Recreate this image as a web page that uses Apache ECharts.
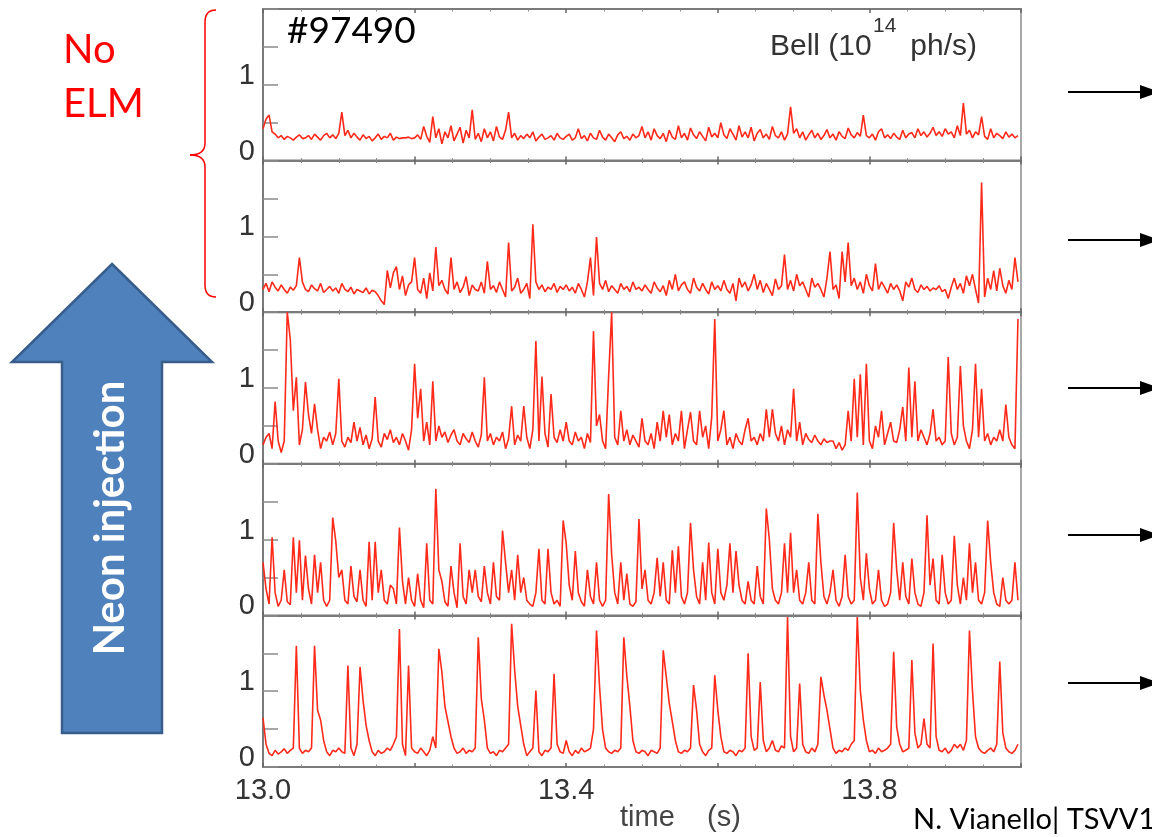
<!DOCTYPE html>
<html><head><meta charset="utf-8">
<script src="https://cdn.jsdelivr.net/npm/echarts@6/dist/echarts.min.js"></script>
<style>html,body{margin:0;padding:0;background:#fff}#c{width:1152px;height:837px}</style>
</head><body><div id="c"></div>
<script>
// Sampling: t = 13.000 + i * 0.004 s
const T0 = 13.0, DT = 0.004;

// Panel 1 (top, No ELM)
const panel1 = [
0.42,0.55,0.6,0.38,0.35,0.3,0.33,0.28,0.32,0.3,0.27,0.31,0.34,0.29,0.3,0.33,0.28,0.35,0.31,0.27,0.33,0.36,0.3,0.34,0.29,
0.36,0.64,0.33,0.4,0.3,0.36,0.31,0.27,0.34,0.29,0.32,0.26,0.3,0.35,0.28,0.32,0.3,0.36,0.27,0.31,0.29,0.3,0.3,0.31,0.29,
0.3,0.34,0.28,0.45,0.32,0.24,0.58,0.3,0.42,0.22,0.38,0.3,0.46,0.26,0.35,0.44,0.23,0.4,0.3,0.67,0.28,0.36,0.25,0.42,0.3,
0.38,0.26,0.45,0.31,0.28,0.4,0.64,0.3,0.36,0.27,0.33,0.29,0.35,0.3,0.38,0.26,0.31,0.35,0.28,0.3,0.33,0.27,0.36,0.3,0.28,
0.32,0.35,0.27,0.3,0.42,0.29,0.33,0.26,0.36,0.3,0.28,0.4,0.31,0.27,0.35,0.3,0.25,0.34,0.38,0.29,0.32,0.27,0.35,0.3,0.33,
0.45,0.3,0.38,0.27,0.42,0.33,0.29,0.36,0.25,0.4,0.31,0.28,0.46,0.3,0.36,0.27,0.43,0.34,0.29,0.38,0.32,0.26,0.44,0.31,0.36,
0.3,0.5,0.34,0.29,0.42,0.35,0.27,0.46,0.31,0.38,0.3,0.44,0.26,0.36,0.41,0.3,0.35,0.28,0.45,0.33,0.3,0.38,0.27,0.35,0.71,
0.36,0.42,0.3,0.38,0.27,0.34,0.4,0.3,0.36,0.28,0.33,0.41,0.3,0.35,0.27,0.38,0.32,0.29,0.43,0.34,0.3,0.37,0.32,0.6,0.33,
0.3,0.35,0.27,0.38,0.42,0.3,0.34,0.29,0.36,0.31,0.28,0.4,0.3,0.35,0.37,0.3,0.42,0.33,0.38,0.31,0.36,0.44,0.33,0.38,0.32,
0.42,0.35,0.38,0.3,0.46,0.33,0.76,0.35,0.4,0.3,0.38,0.34,0.58,0.32,0.28,0.42,0.3,0.36,0.33,0.29,0.38,0.31,0.35,0.3,0.33
];
// Panel 2
const panel2 = [
0.3,0.38,0.27,0.4,0.33,0.28,0.36,0.3,0.25,0.33,0.29,0.35,0.72,0.4,0.3,0.27,0.36,0.31,0.28,0.38,0.26,0.3,0.34,0.28,0.32,
0.25,0.38,0.3,0.27,0.33,0.24,0.3,0.28,0.26,0.32,0.24,0.29,0.27,0.22,0.15,0.1,0.55,0.32,0.52,0.6,0.3,0.48,0.22,0.36,0.4,
0.72,0.3,0.25,0.45,0.18,0.52,0.28,0.86,0.35,0.42,0.3,0.24,0.72,0.3,0.4,0.26,0.33,0.47,0.22,0.36,0.3,0.28,0.4,0.25,0.67,
0.3,0.35,0.26,0.4,0.3,0.2,0.92,0.28,0.33,0.45,0.25,0.3,0.38,0.18,1.16,0.4,0.3,0.36,0.27,0.33,0.3,0.38,0.26,0.34,0.3,
0.36,0.28,0.33,0.25,0.38,0.3,0.2,0.4,0.72,0.22,0.99,0.38,0.3,0.42,0.27,0.35,0.3,0.25,0.38,0.3,0.34,0.27,0.4,0.3,0.33,
0.28,0.36,0.3,0.25,0.4,0.32,0.27,0.35,0.22,0.42,0.3,0.5,0.28,0.36,0.4,0.3,0.25,0.45,0.33,0.28,0.38,0.3,0.24,0.4,0.3,
0.35,0.28,0.42,0.3,0.25,0.38,0.15,0.45,0.33,0.4,0.28,0.36,0.5,0.3,0.42,0.26,0.38,0.3,0.22,0.44,0.3,0.35,0.76,0.3,0.42,
0.28,0.5,0.35,0.4,0.3,0.2,0.45,0.33,0.38,0.3,0.2,0.45,0.8,0.3,0.36,0.18,0.8,0.4,0.92,0.35,0.45,0.3,0.4,0.25,0.5,
0.35,0.28,0.64,0.3,0.4,0.33,0.25,0.38,0.3,0.36,0.28,0.15,0.4,0.33,0.45,0.3,0.26,0.36,0.3,0.34,0.28,0.32,0.3,0.35,0.27,
0.3,0.18,0.33,0.45,0.3,0.38,0.25,0.48,0.35,0.5,0.3,0.12,1.71,0.2,0.45,0.3,0.55,0.28,0.58,0.35,0.25,0.42,0.3,0.72,0.4
];
// Panel 3
const panel3 = [
0.25,0.35,0.4,0.2,0.82,0.3,0.15,0.3,2.0,1.64,0.7,1.14,0.25,0.45,1.08,0.65,0.4,0.79,0.45,0.2,0.35,0.3,0.42,0.25,0.4,
1.12,0.3,0.22,0.35,0.28,0.55,0.3,0.48,0.25,0.38,0.2,0.33,0.88,0.3,0.22,0.4,0.32,0.45,0.28,0.35,0.25,0.4,0.3,0.18,0.45,
1.32,0.6,0.99,0.3,0.55,0.25,1.09,0.3,0.5,0.35,0.42,0.28,0.38,0.45,0.3,0.25,0.4,0.33,0.28,0.42,0.3,0.22,0.38,1.14,0.3,
0.4,0.25,0.35,0.3,0.42,0.2,0.33,0.76,0.25,0.38,0.3,0.76,0.35,0.2,0.45,1.62,0.3,1.15,0.4,0.22,0.92,0.35,0.28,0.45,0.3,
0.55,0.3,0.25,0.42,0.3,0.35,0.2,0.4,0.28,1.75,0.5,0.65,0.3,0.2,1.16,2.0,0.35,0.25,0.7,0.3,0.45,0.25,0.38,0.3,0.22,
0.6,0.3,0.25,0.4,0.2,0.55,0.3,0.7,0.35,0.65,0.25,0.4,0.3,0.7,0.2,0.45,0.68,0.3,0.25,0.7,0.35,0.5,0.2,0.62,1.91,
0.3,0.45,0.7,0.25,0.35,0.2,0.4,0.3,0.25,0.45,0.6,0.3,0.35,0.25,0.4,0.3,0.72,0.35,0.72,0.4,0.3,0.5,0.25,0.45,0.35,
0.99,0.3,0.55,0.25,0.4,0.32,0.28,0.38,0.3,0.25,0.33,0.28,0.3,0.3,0.2,0.28,0.18,0.25,0.7,0.3,1.12,0.35,1.18,0.25,1.32,
0.3,0.2,0.5,0.35,0.7,0.25,0.4,0.55,0.3,0.28,0.45,0.75,0.3,1.27,0.35,1.09,0.3,0.45,0.35,0.25,0.4,0.72,0.3,0.35,0.25,
0.3,1.41,0.4,0.25,0.35,1.29,0.5,0.3,0.2,0.45,1.32,0.35,0.99,0.3,0.4,0.25,0.35,0.3,0.45,0.3,0.78,0.35,0.25,0.2,1.91
];
// Panel 4
const panel4 = [
0.7,0.35,0.15,1.03,0.3,0.12,0.2,0.6,0.18,0.14,1.03,0.3,0.99,0.2,0.79,0.35,0.15,0.8,0.3,0.7,0.2,0.12,0.2,1.29,0.98,
0.5,0.6,0.2,0.15,0.65,0.25,0.18,0.6,0.2,0.12,0.97,0.2,0.97,0.3,0.6,0.2,0.15,0.4,0.35,0.15,1.16,0.45,0.15,0.5,0.2,
0.12,0.55,0.2,0.1,0.95,0.2,0.15,1.67,0.6,0.45,0.18,0.12,0.65,0.3,0.1,0.95,0.25,0.15,0.6,0.3,0.6,0.25,0.18,0.65,0.3,
0.15,0.7,0.25,0.2,1.12,0.7,0.3,0.6,0.2,0.8,0.3,0.5,0.2,0.15,0.12,0.3,0.88,0.2,0.15,0.88,0.3,0.15,0.2,0.12,1.25,
0.95,0.4,0.2,0.85,0.3,0.18,0.12,0.6,0.25,0.15,0.7,0.2,0.12,0.2,1.6,0.8,0.3,0.15,0.7,0.2,0.55,0.15,0.12,0.18,1.27,
0.35,0.6,0.2,0.15,0.3,0.76,0.25,0.7,0.2,0.15,0.86,0.3,0.91,0.25,0.15,0.3,1.22,0.6,0.25,0.15,0.7,0.2,0.96,0.3,0.15,
0.88,0.3,0.2,0.4,0.95,0.3,0.85,0.4,0.2,0.15,0.45,0.2,0.15,0.65,0.25,0.15,1.41,1.0,0.35,0.2,0.15,0.3,0.95,0.3,1.09,
0.3,0.6,0.2,0.15,0.3,0.7,0.2,0.15,1.34,0.7,0.25,0.15,0.3,0.6,0.2,0.12,0.25,0.8,0.25,0.15,0.2,1.62,0.5,0.2,0.82,
0.35,0.15,0.2,0.6,0.2,0.12,0.15,0.3,1.22,0.6,0.2,0.7,0.25,0.15,0.75,0.3,0.15,0.12,0.3,1.32,0.4,0.75,0.2,0.15,0.8,
0.3,0.15,0.2,1.05,0.4,0.15,0.5,0.2,0.95,0.3,0.7,0.2,0.15,0.3,1.25,0.7,0.3,0.15,0.12,0.5,0.2,0.15,0.2,0.7,0.2
];
// Panel 5 (bottom)
const panel5 = [
0.65,0.3,0.18,0.15,0.22,0.17,0.2,0.24,0.18,0.22,0.25,1.6,0.25,0.18,0.22,0.2,0.25,1.6,0.75,0.62,0.35,0.2,0.15,0.22,0.2,
0.25,0.2,0.18,1.34,0.25,0.15,0.3,1.32,0.88,0.55,0.35,0.2,0.15,0.22,0.18,0.2,0.25,0.22,0.3,0.4,1.82,0.3,0.15,1.34,0.25,
0.2,0.18,0.25,0.2,0.15,0.22,0.4,0.25,1.56,1.25,0.8,0.6,0.4,0.25,0.18,0.2,0.25,0.18,0.22,0.2,0.25,1.71,0.9,0.62,0.25,
0.18,0.2,0.15,0.22,0.2,0.25,0.3,1.89,1.28,0.8,0.55,0.3,0.15,0.2,0.25,1.01,0.2,0.15,0.22,0.2,0.25,1.23,0.3,0.2,0.18,
0.35,0.2,0.15,0.22,0.18,0.25,0.2,0.22,0.25,0.5,1.8,1.06,0.49,0.25,0.2,0.18,0.22,0.2,0.25,1.71,1.2,0.8,0.35,0.2,0.18,
0.22,0.2,0.15,0.22,0.2,0.18,0.25,1.54,1.19,0.84,0.6,0.35,0.2,0.18,0.22,0.2,0.25,1.08,0.75,0.3,0.2,0.15,0.22,0.25,1.21,
0.75,0.4,0.2,0.18,0.22,0.2,0.15,0.22,0.2,0.25,1.5,0.4,0.22,0.25,1.12,0.35,0.2,0.25,0.35,0.22,0.2,0.28,0.25,1.98,0.4,
0.2,0.25,1.1,0.3,0.2,0.18,0.25,0.2,0.3,1.19,0.95,0.75,0.5,0.25,0.18,0.22,0.2,0.25,0.22,0.3,0.35,1.98,1.01,0.62,0.35,
0.2,0.22,0.18,0.25,0.2,0.22,0.25,0.3,1.52,0.53,0.3,0.2,0.22,0.25,1.41,0.45,0.25,0.3,0.64,0.3,0.25,1.63,0.4,0.22,0.2,
0.25,0.18,0.22,0.3,0.25,0.3,0.22,0.35,1.8,1.0,0.4,0.25,0.2,0.18,0.22,0.25,0.2,0.3,1.39,0.45,0.25,0.2,0.18,0.22,0.3
];

const panels = [panel1, panel2, panel3, panel4, panel5];
const xTickLabels = ['13.0', '13.4', '13.8'];
const yTickLabels = ['0', '1'];
const arrowRows = [92, 240, 388, 535, 683];

const chart = echarts.init(document.getElementById('c'), null, {renderer: 'canvas'});
const grids = [], xAxes = [], yAxes = [], series = [];
const PT = 9, PH = 151.6;
const axisCol = '#7a7a7a';
panels.forEach((vals, k) => {
  grids.push({left: 263, width: 758, top: PT + PH * k, height: PH, show: true,
    borderColor: '#a8a8a8', borderWidth: 2, backgroundColor: 'transparent'});
  const xBase = {type: 'value', gridIndex: k, min: 13, max: 14, interval: 0.2,
    axisLine: {show: true, onZero: false, lineStyle: {color: axisCol, width: 2}},
    axisTick: {show: true, inside: true, length: 4, lineStyle: {color: '#666', width: 1.5}},
    minorTick: {show: true, splitNumber: 4, length: 2.5, lineStyle: {color: '#888', width: 1}},
    splitLine: {show: false}, minorSplitLine: {show: false}};
  xAxes.push(Object.assign({}, xBase, {position: 'bottom',
    axisLabel: {show: k === 4, margin: 9, color: '#333', fontSize: 29, fontFamily: 'Liberation Sans',
      formatter: v => { const s = v.toFixed(1); return xTickLabels.includes(s) ? s : ''; }}}));
  xAxes.push(Object.assign({}, xBase, {position: 'top', axisLabel: {show: false}}));
  yAxes.push({type: 'value', gridIndex: k, min: 0, max: 2, interval: 0.5,
    axisLine: {show: true, lineStyle: {color: axisCol, width: 2}},
    axisTick: {show: true, inside: true, length: 15, lineStyle: {color: '#8a8a8a', width: 1.5}},
    splitLine: {show: false},
    axisLabel: {margin: 8, color: '#333', fontSize: 29, fontFamily: 'Liberation Sans',
      verticalAlign: 'bottom', lineHeight: 18,
      formatter: v => { const s = String(v); return yTickLabels.includes(s) ? s : ''; }}});
  series.push({type: 'line', xAxisIndex: 2 * k, yAxisIndex: k, symbol: 'none', clip: true,
    lineStyle: {color: '#ff2a1a', width: 1.6}, silent: true,
    data: vals.map((v, i) => [T0 + i * DT, v])});
});

const braceStyle = {fill: 'none', stroke: '#ff0000', lineWidth: 1.5};
const graphics = [
  {type: 'text', x: 287, y: 31, style: {text: '#97490', fontSize: 37, fontFamily: 'Lato', fill: '#000', verticalAlign: 'middle'}},
  {type: 'text', x: 770, y: 47, style: {text: 'Bell (10', fontSize: 30, fontFamily: 'Liberation Sans', fill: '#333', verticalAlign: 'middle'}},
  {type: 'text', x: 873, y: 26, style: {text: '14', fontSize: 21, fontFamily: 'Liberation Sans', fill: '#333', verticalAlign: 'middle'}},
  {type: 'text', x: 902, y: 47, style: {text: ' ph/s)', fontSize: 30, fontFamily: 'Liberation Sans', fill: '#333', verticalAlign: 'middle'}},
  {type: 'text', x: 620, y: 818, style: {text: 'time    (s)', fontSize: 29, fontFamily: 'Liberation Sans', fill: '#444', verticalAlign: 'middle'}},
  {type: 'text', x: 913, y: 820, style: {text: 'N. Vianello| TSVV1', fontSize: 29, fontFamily: 'Lato', fill: '#000', verticalAlign: 'middle'}},
  {type: 'text', x: 63, y: 50, style: {text: 'No', fontSize: 40, fontFamily: 'Lato', fill: '#ff0000', verticalAlign: 'middle'}},
  {type: 'text', x: 63, y: 104, style: {text: 'ELM', fontSize: 40, fontFamily: 'Lato', fill: '#ff0000', verticalAlign: 'middle'}},
  {type: 'bezierCurve', shape: {x1: 216, y1: 10, cpx1: 205, cpy1: 10, x2: 205, y2: 22}, style: braceStyle},
  {type: 'line', shape: {x1: 205, y1: 22, x2: 205, y2: 143}, style: braceStyle},
  {type: 'bezierCurve', shape: {x1: 205, y1: 143, cpx1: 205, cpy1: 155, x2: 190, y2: 155}, style: braceStyle},
  {type: 'bezierCurve', shape: {x1: 190, y1: 155, cpx1: 205, cpy1: 155, x2: 205, y2: 167}, style: braceStyle},
  {type: 'line', shape: {x1: 205, y1: 167, x2: 205, y2: 285}, style: braceStyle},
  {type: 'bezierCurve', shape: {x1: 205, y1: 285, cpx1: 205, cpy1: 297, x2: 216, y2: 297}, style: braceStyle},
  {type: 'polygon', shape: {points: [[112, 264], [212, 362], [162, 362], [162, 733], [62, 733], [62, 362], [12, 362]]},
    style: {fill: '#4f81bd', stroke: '#385d8a', lineWidth: 2.5}},
  {type: 'text', x: 110, y: 518, rotation: Math.PI / 2,
    style: {text: 'Neon injection', fontSize: 42, fontWeight: 'bold', fontFamily: 'Lato', fill: '#fff', align: 'center', verticalAlign: 'middle'}}
];
arrowRows.forEach(y => {
  graphics.push({type: 'line', shape: {x1: 1068, y1: y, x2: 1142, y2: y}, style: {stroke: '#000', lineWidth: 2}});
  graphics.push({type: 'polygon', shape: {points: [[1140, y - 7], [1160, y], [1140, y + 7]]}, style: {fill: '#000'}});
});

chart.setOption({
  animation: false,
  backgroundColor: '#fff',
  grid: grids, xAxis: xAxes, yAxis: yAxes, series: series,
  graphic: graphics
});
</script></body></html>
